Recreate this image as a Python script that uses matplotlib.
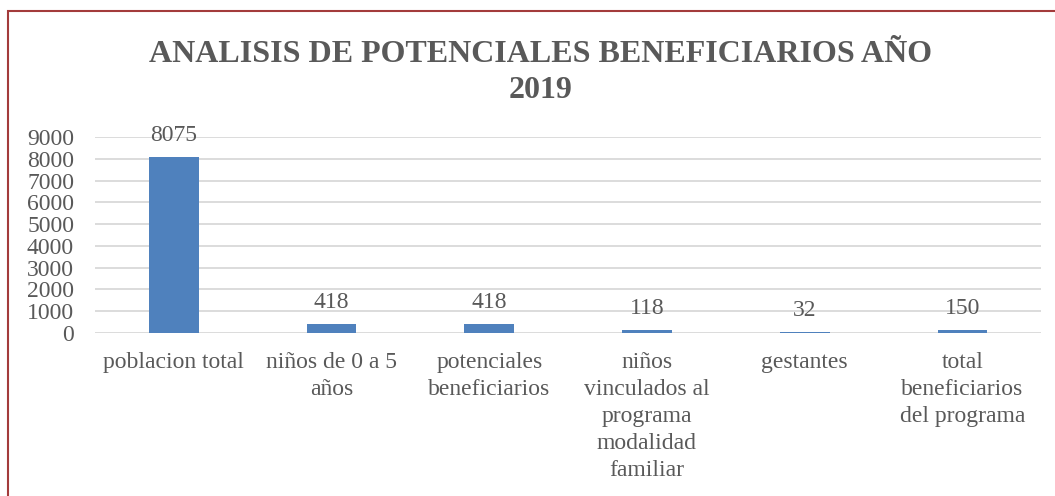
import matplotlib.pyplot as plt
from matplotlib.patches import Rectangle

categorias = [
    "poblacion total",
    "niños de 0 a 5\naños",
    "potenciales\nbeneficiarios",
    "niños\nvinculados al\nprograma\nmodalidad\nfamiliar",
    "gestantes",
    "total\nbeneficiarios\ndel programa",
]
valores = [8075, 418, 418, 118, 32, 150]
y_ticks = [0, 1000, 2000, 3000, 4000, 5000, 6000, 7000, 8000, 9000]

gris = "#595959"
azul = "#4F81BD"

plt.rcParams['font.family'] = ['Liberation Serif', 'DejaVu Serif']

fig = plt.figure(figsize=(10.55, 4.96), dpi=100)
ax = fig.add_axes([0.090, 0.3286, 0.897, 0.3952])

x = range(len(categorias))
barras = ax.bar(x, valores, width=0.316, color=azul, zorder=3)

for b, v in zip(barras, valores):
    ax.annotate(str(v), (b.get_x() + b.get_width() / 2, v),
                xytext=(0, 8), textcoords="offset points",
                ha="center", va="bottom", fontsize=17, color=gris)

ax.set_xlim(-0.5, len(categorias) - 0.5)
ax.set_ylim(0, 9000)
ax.set_yticks(y_ticks)
ax.set_xticks(list(x))
ax.set_xticklabels(categorias, fontsize=17, color=gris, linespacing=1.37)
ax.tick_params(axis="y", labelsize=17, labelcolor=gris, length=0, pad=15)
ax.tick_params(axis="x", length=0, pad=14)
ax.grid(axis="y", color="#D9D9D9", linewidth=1.3, zorder=0)
for s in ax.spines.values():
    s.set_visible(False)

fig.text(0.512, 0.92, "ANALISIS DE POTENCIALES BENEFICIARIOS AÑO\n2019",
         ha="center", va="top", fontsize=23, fontweight="bold", color=gris,
         linespacing=1.32)

fig.patches.append(Rectangle((8 / 1055, -0.1), 1.1, 1 - 11 / 496 + 0.1,
                             transform=fig.transFigure, fill=False,
                             edgecolor="#A33B3B", linewidth=1.5))

fig.savefig("out.png", dpi=100)
